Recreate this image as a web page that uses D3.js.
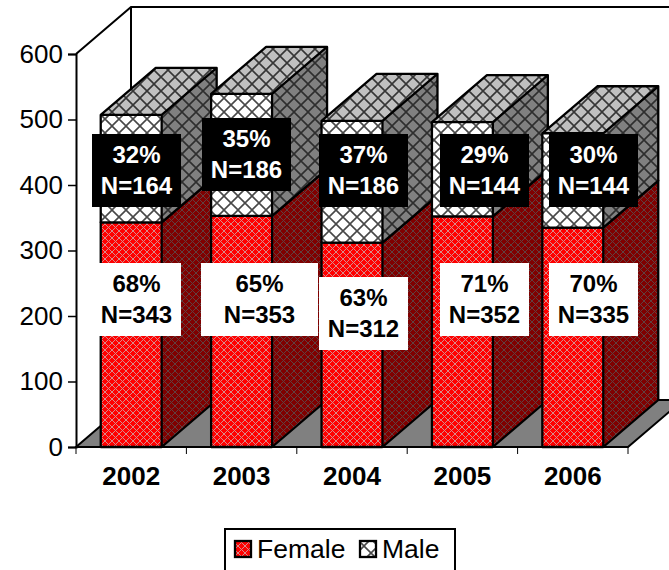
<!DOCTYPE html>
<html>
<head>
<meta charset="utf-8">
<script src="https://cdn.jsdelivr.net/npm/d3@7"></script>
<style>
  body { margin: 0; background: #fff; overflow: hidden; }
  svg { display: block; }
  text { font-family: "Liberation Sans", Arial, sans-serif; fill: #000; }
</style>
</head>
<body>
<svg id="chart" width="669" height="570"></svg>
<script>
const years = ['2002', '2003', '2004', '2005', '2006'];
const female = [343, 353, 312, 352, 335];
const male = [164, 186, 186, 144, 144];
const femalePct = ['68%', '65%', '63%', '71%', '70%'];
const malePct = ['32%', '35%', '37%', '29%', '30%'];
const yTicks = [0, 100, 200, 300, 400, 500, 600];

// hand placed label boxes: left, top, width in pixels
const maleBoxes = [[92, 134, 89], [202, 118, 89], [319, 134, 89], [440, 134, 89], [549, 134, 89]];
const femaleBoxes = [[92, 263, 89], [201, 263, 117], [319, 277, 89], [440, 263, 89], [549, 263, 89]];
const boxH = 73;

const depthX = 55, depthY = 47;

const svg = d3.select('#chart');
const defs = svg.append('defs');

function lattice(id, bg, line, size, width, crisp) {
  const p = defs.append('pattern')
    .attr('id', id)
    .attr('patternUnits', 'userSpaceOnUse')
    .attr('width', size)
    .attr('height', size);
  p.append('rect').attr('width', size).attr('height', size).attr('fill', bg);
  p.append('path')
    .attr('d', `M0,0L${size},${size}M${size},0L0,${size}`)
    .attr('stroke', line)
    .attr('stroke-width', width)
    .attr('shape-rendering', crisp ? 'crispEdges' : 'auto');
}

lattice('femaleFront', '#ff0000', '#d88a8a', 7, 1.2, true);
lattice('femaleSide', '#800000', '#604040', 7, 1.2, true);
lattice('maleFront', '#ffffff', '#484848', 14, 1.6);
lattice('maleTop', '#c0c0c0', '#363636', 14, 1.6);
lattice('maleSide', '#808080', '#2e2e2e', 14, 1.6);

let x = d3.scaleBand()
  .domain(years)
  .range([76, 628])
  .paddingInner(0.448)
  .paddingOuter(0.224);

let y = d3.scaleLinear()
  .domain([0, 600])
  .range([447, 54]);

let xLeft = x.range()[0], xRight = x.range()[1];

// floor and the walls behind the bars
svg.append('path')
  .attr('d', `M${xLeft},${y(0)}l${depthX},${-depthY}L${xRight + depthX},${y(0) - depthY}L${xRight},${y(0)}Z`)
  .attr('fill', '#808080')
  .attr('stroke', '#000')
  .attr('stroke-width', 2);

svg.append('path')
  .attr('d', `M${xLeft},${y(600)}l${depthX},${-depthY}L${xRight + depthX},${y(600) - depthY}M${xLeft + depthX},${y(600) - depthY}L${xLeft + depthX},${y(0) - depthY}`)
  .attr('fill', 'none')
  .attr('stroke', '#000')
  .attr('stroke-width', 2);

function drawBlock(g, x0, w, yBase, yTop, front, side, top) {
  g.append('path')
    .attr('d', `M${x0 + w},${yBase}l${depthX},${-depthY}L${x0 + w + depthX},${yTop - depthY}L${x0 + w},${yTop}Z`)
    .attr('fill', `url(#${side})`);
  if (top) {
    g.append('path')
      .attr('d', `M${x0},${yTop}l${depthX},${-depthY}h${w}l${-depthX},${depthY}Z`)
      .attr('fill', `url(#${top})`);
  }
  g.append('rect')
    .attr('x', x0).attr('y', yTop)
    .attr('width', w).attr('height', yBase - yTop)
    .attr('fill', `url(#${front})`);
  g.append('path')
    .attr('d', `M${x0},${yBase}V${yTop}H${x0 + w}V${yBase}Z` +
      `M${x0 + w},${yBase}l${depthX},${-depthY}V${yTop - depthY}L${x0 + w},${yTop}` +
      (top ? `M${x0},${yTop}l${depthX},${-depthY}h${w}` : ''))
    .attr('fill', 'none')
    .attr('stroke', '#000')
    .attr('stroke-width', 2.3)
    .attr('stroke-linejoin', 'round');
}

const bars = svg.selectAll('.bar')
  .data(years)
  .enter()
  .append('g')
  .attr('class', 'bar');

bars.each(function (d, i) {
  let g = d3.select(this);
  drawBlock(g, x(d), x.bandwidth(), y(0), y(female[i]), 'femaleFront', 'femaleSide', null);
  drawBlock(g, x(d), x.bandwidth(), y(female[i]), y(female[i] + male[i]), 'maleFront', 'maleSide', 'maleTop');
});

// axes
const yAxis = d3.axisLeft(y).tickValues(yTicks).tickSize(8).tickPadding(5);
const yG = svg.append('g').attr('transform', `translate(${xLeft},0)`).call(yAxis);
yG.select('.domain').attr('stroke-width', 2);
yG.selectAll('.tick line').attr('stroke-width', 1.5);
yG.selectAll('text').style('font-size', '26px').style('font-family', '"Liberation Sans"');

svg.append('line')
  .attr('x1', xLeft).attr('x2', xRight)
  .attr('y1', y(0)).attr('y2', y(0))
  .attr('stroke', '#000').attr('stroke-width', 2);

svg.selectAll('.xtick')
  .data(d3.range(years.length + 1))
  .enter()
  .append('line')
  .attr('class', 'xtick')
  .attr('x1', d => xLeft + d * x.step())
  .attr('x2', d => xLeft + d * x.step())
  .attr('y1', y(0))
  .attr('y2', y(0) + 7)
  .attr('stroke', '#000')
  .attr('stroke-width', 1);

const xAxis = d3.axisBottom(x).tickSize(0).tickPadding(20);
const xG = svg.append('g').attr('transform', `translate(0,${y(0)})`).call(xAxis);
xG.select('.domain').remove();
xG.selectAll('text')
  .style('font-size', '26px')
  .style('font-weight', 'bold')
  .style('font-family', '"Liberation Sans"');

// value labels
function drawLabels(boxes, pct, counts, boxFill, textFill) {
  const labels = svg.append('g').selectAll('g')
    .data(years)
    .enter()
    .append('g')
    .attr('transform', (d, i) => `translate(${boxes[i][0]},${boxes[i][1]})`);
  labels.append('rect')
    .attr('width', (d, i) => boxes[i][2])
    .attr('height', boxH)
    .attr('fill', boxFill);
  labels.append('text')
    .attr('x', (d, i) => boxes[i][2] / 2).attr('y', 29)
    .attr('text-anchor', 'middle')
    .style('font-size', '24px').style('font-weight', 'bold').style('fill', textFill)
    .text((d, i) => pct[i]);
  labels.append('text')
    .attr('x', (d, i) => boxes[i][2] / 2).attr('y', 60)
    .attr('text-anchor', 'middle')
    .style('font-size', '24px').style('font-weight', 'bold').style('fill', textFill)
    .text((d, i) => 'N=' + counts[i]);
}

drawLabels(maleBoxes, malePct, male, '#000', '#fff');
drawLabels(femaleBoxes, femalePct, female, '#fff', '#000');

// legend
const legend = svg.append('g');
legend.append('rect')
  .attr('x', 225).attr('y', 529)
  .attr('width', 230).attr('height', 60)
  .attr('fill', '#fff').attr('stroke', '#000').attr('stroke-width', 2);

[['Female', 'femaleFront', 235, 257], ['Male', 'maleFront', 360, 382]].forEach(function (item) {
  legend.append('rect')
    .attr('x', item[2]).attr('y', 541)
    .attr('width', 16).attr('height', 16)
    .attr('fill', `url(#${item[1]})`)
    .attr('stroke', '#000').attr('stroke-width', 2.3);
  legend.append('text')
    .attr('x', item[3]).attr('y', 558)
    .style('font-size', '26.5px')
    .text(item[0]);
});
</script>
</body>
</html>
